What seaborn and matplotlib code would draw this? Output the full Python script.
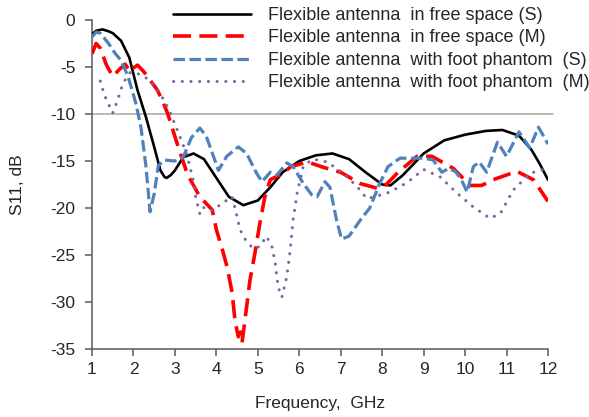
import matplotlib
matplotlib.use("Agg")
import matplotlib.pyplot as plt
import seaborn as sns
import pandas as pd

# ---------------- data ----------------
freq_fs_s = [1.0, 1.1, 1.25, 1.4, 1.5, 1.7, 1.9, 2.1, 2.3, 2.5, 2.65, 2.75, 2.8, 2.9,
             3.0, 3.2, 3.45, 3.7, 4.0, 4.3, 4.65, 5.0, 5.3, 5.6, 6.0, 6.4, 6.8, 7.2,
             7.6, 8.0, 8.2, 8.5, 9.0, 9.5, 10.0, 10.5, 10.9, 11.3, 11.6, 11.8, 12.0]
s11_fs_s = [-1.5, -1.15, -1.0, -1.2, -1.4, -2.2, -4.0, -7.5, -10.3, -13.5, -16.0,
            -16.7, -16.8, -16.5, -16.0, -14.6, -14.2, -14.8, -16.8, -18.8, -19.7,
            -19.2, -17.8, -16.2, -15.0, -14.4, -14.2, -14.8, -16.2, -17.5, -17.6,
            -16.5, -14.2, -12.8, -12.2, -11.8, -11.7, -12.3, -13.8, -15.3, -17.0]

freq_fs_m = [1.0, 1.1, 1.2, 1.35, 1.5, 1.65, 1.8, 1.92, 2.0, 2.1, 2.25, 2.4, 2.57,
             2.7, 2.83, 3.05, 3.3, 3.6, 3.9, 4.0, 4.15, 4.26, 4.38, 4.45, 4.53, 4.58,
             4.62, 4.73, 4.81, 4.93, 5.05, 5.17, 5.3, 5.6, 5.8, 6.2, 6.6, 7.0, 7.47,
             7.88, 8.1, 8.36, 8.84, 9.2, 9.72, 10.12, 10.4, 10.67, 11.25, 11.65, 12.0]
s11_fs_m = [-3.6, -2.5, -3.0, -4.8, -6.0, -5.3, -4.7, -5.5, -5.1, -4.8, -5.5, -6.4,
            -7.4, -8.6, -10.0, -13.1, -16.4, -18.8, -20.2, -22.3, -24.5, -26.3, -29.0,
            -32.0, -33.7, -33.2, -34.3, -30.5, -27.7, -24.8, -21.6, -18.8, -17.0,
            -16.3, -15.6, -15.1, -15.7, -16.2, -17.4, -17.9, -17.5, -16.3, -14.5,
            -14.5, -15.8, -17.6, -17.6, -17.0, -16.1, -17.0, -19.3]

freq_ph_s = [1.0, 1.1, 1.2, 1.4, 1.55, 1.7, 1.87, 2.06, 2.18, 2.3, 2.4, 2.5, 2.6,
             2.75, 3.0, 3.2, 3.4, 3.6, 3.75, 3.93, 4.05, 4.25, 4.53, 4.73, 4.97, 5.1,
             5.3, 5.46, 5.7, 5.85, 6.1, 6.3, 6.43, 6.62, 6.74, 6.9, 7.02, 7.2, 7.47,
             7.7, 7.95, 8.14, 8.43, 8.84, 9.0, 9.23, 9.44, 9.6, 9.76, 9.9, 10.05,
             10.2, 10.34, 10.52, 10.78, 11.0, 11.3, 11.56, 11.77, 12.0]
s11_ph_s = [-1.8, -1.3, -1.4, -2.5, -3.5, -4.3, -6.0, -8.9, -11.4, -15.5, -20.4,
            -18.5, -15.5, -14.9, -15.0, -14.6, -12.5, -11.5, -12.3, -14.5, -16.0,
            -14.5, -13.5, -14.2, -16.3, -17.2, -16.2, -16.5, -15.2, -15.6, -17.4,
            -18.6, -18.8, -17.2, -17.8, -21.3, -23.3, -23.0, -21.3, -20.0, -17.3,
            -15.6, -14.7, -14.7, -14.7, -14.9, -16.2, -15.8, -16.1, -16.9, -18.3,
            -15.6, -15.1, -16.2, -13.0, -14.5, -11.9, -13.6, -11.4, -13.2]

freq_ph_m = [1.2, 1.3, 1.5, 1.62, 1.75, 1.92, 2.1, 2.32, 2.5, 2.64, 2.84, 3.02, 3.28,
             3.44, 3.5, 3.6, 3.68, 3.8, 3.93, 4.14, 4.38, 4.45, 4.57, 4.73, 4.89,
             5.05, 5.21, 5.34, 5.42, 5.49, 5.58, 5.7, 5.78, 5.85, 5.95, 6.1, 6.33,
             6.67, 7.06, 7.39, 7.63, 7.82, 8.19, 8.6, 9.0, 9.4, 9.8, 10.2, 10.6,
             10.85, 11.16, 11.57, 11.98]
s11_ph_m = [-6.5, -8.0, -9.9, -8.5, -6.7, -5.6, -5.7, -6.2, -6.9, -7.8, -9.4, -11.3,
            -14.2, -17.0, -18.8, -20.6, -19.9, -20.3, -20.2, -19.5, -18.8, -20.0,
            -22.3, -23.6, -24.3, -24.1, -23.0, -24.1, -25.9, -28.4, -29.5, -27.3,
            -24.5, -21.3, -18.4, -15.5, -14.8, -15.1, -16.3, -17.7, -19.0, -18.8,
            -18.3, -17.3, -15.9, -16.7, -18.4, -19.9, -21.1, -20.6, -18.1, -16.3,
            -15.8]

labels = ["Flexible antenna  in free space (S)",
          "Flexible antenna  in free space (M)",
          "Flexible antenna  with foot phantom  (S)",
          "Flexible antenna  with foot phantom  (M)"]
x_ticks = [1, 2, 3, 4, 5, 6, 7, 8, 9, 10, 11, 12]
y_ticks = [0, -5, -10, -15, -20, -25, -30, -35]

# ---------------- styling ----------------
sns.set_style("ticks")
plt.rcParams["font.family"] = ["Liberation Sans", "DejaVu Sans"]
plt.rcParams["axes.unicode_minus"] = False

fig = plt.figure(figsize=(5.89, 4.17), dpi=100)
ax = fig.add_axes([92 / 589, 1 - 349 / 417, (548 - 92) / 589, (349 - 20) / 417])

ax.axhline(-10, color="#A6A6A6", lw=1.1, zorder=1, xmax=1.01, clip_on=False)

series = [
    (freq_fs_s, s11_fs_s, "#000000", 1.9, "-", "butt"),
    (freq_fs_m, s11_fs_m, "#FF0000", 2.6, (0, (5.0, 2.3)), "butt"),
    (freq_ph_s, s11_ph_s, "#4F81BD", 2.3, (0, (3.6, 1.4)), "butt"),
    (freq_ph_m, s11_ph_m, "#8064A2", 2.2, (0, (0.05, 2.8)), "round"),
]
for (fx, fy, col, lw, ls, cap), lab in zip(series, labels):
    df = pd.DataFrame({"f": fx, "s": fy})
    sns.lineplot(data=df, x="f", y="s", ax=ax, color=col, lw=lw, linestyle=ls,
                 label=lab, estimator=None, sort=False,
                 dash_capstyle=cap, solid_capstyle="round",
                 solid_joinstyle="round", dash_joinstyle="round", zorder=3)

ax.set_xlim(1, 12)
ax.set_ylim(-35, 0)
ax.set_xticks(x_ticks)
ax.set_yticks(y_ticks)
ax.set_xticklabels([str(t) for t in x_ticks])
ax.set_yticklabels([str(t) for t in y_ticks])
ax.set_xlabel("Frequency,  GHz", fontsize=12.5, color="#262626", labelpad=14)
ax.set_ylabel("S11, dB", fontsize=12.5, color="#262626", labelpad=18)
ax.tick_params(axis="both", labelsize=12.5, colors="#262626", length=5,
               width=1.1, color="#595959", direction="out")
ax.tick_params(axis="x", pad=4)
ax.tick_params(axis="y", pad=7)
for side in ["top", "right"]:
    ax.spines[side].set_visible(False)
for side in ["left", "bottom"]:
    ax.spines[side].set_color("#595959")
    ax.spines[side].set_linewidth(1.1)

leg = ax.legend(loc="upper left", bbox_to_anchor=(173 / 589, 1 - 7 / 417),
                bbox_transform=fig.transFigure, frameon=False, fontsize=13,
                borderpad=0, borderaxespad=0, handlelength=4.3,
                handletextpad=0.95, labelspacing=0.3)
for t in leg.get_texts():
    t.set_color("#262626")

fig.savefig("out.png", dpi=100)
